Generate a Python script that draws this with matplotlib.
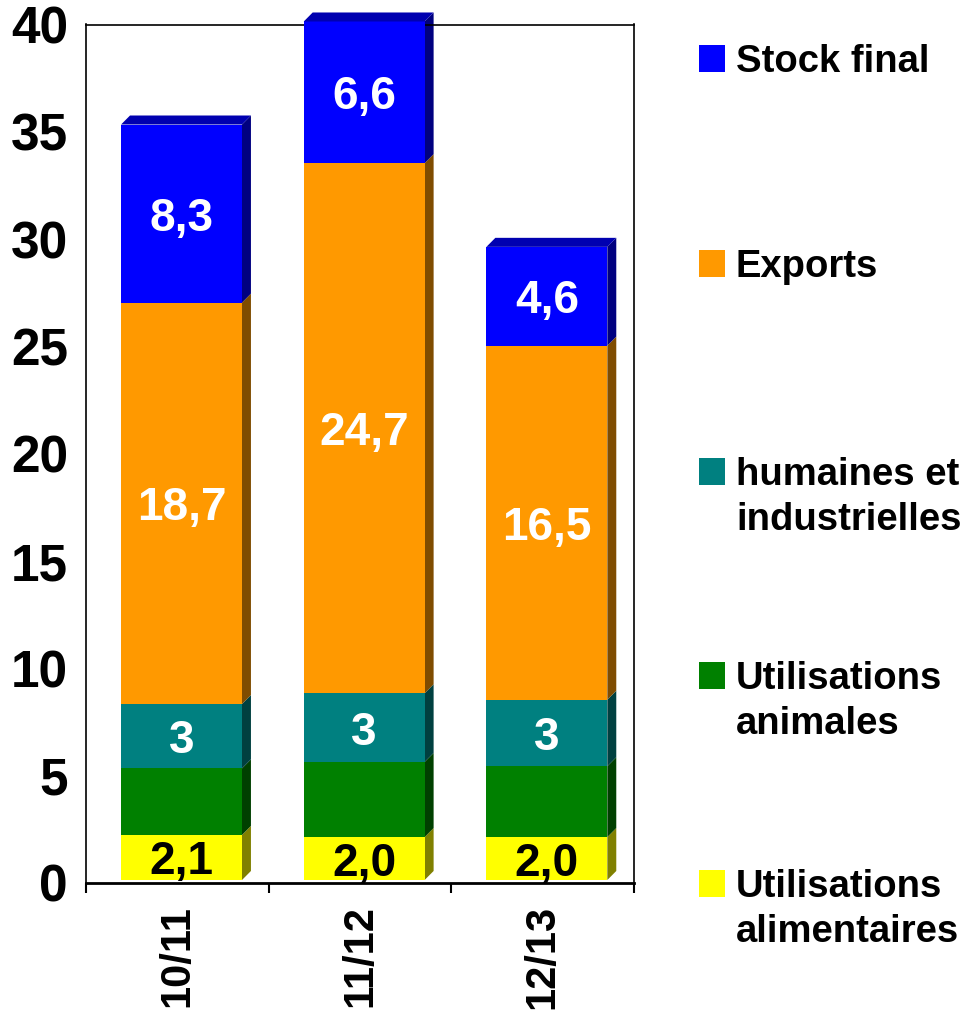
import numpy as np
import matplotlib.pyplot as plt
from matplotlib.patches import Polygon, Rectangle

plt.rcParams['font.family'] = ['Liberation Sans', 'DejaVu Sans']
plt.rcParams['font.weight'] = 'bold'

# campaigns (x axis)
campagnes = ['10/11', '11/12', '12/13']

# stacked series, bottom to top
alimentaires = [2.1, 2.0, 2.0]
animales = [3.1, 3.5, 3.3]
industrielles = [3.0, 3.2, 3.1]
exports = [18.7, 24.7, 16.5]
stock_final = [8.3, 6.6, 4.6]

# text written on the bars
lbl_alimentaires = ['2,1', '2,0', '2,0']
lbl_animales = ['', '', '']
lbl_industrielles = ['3', '3', '3']
lbl_exports = ['18,7', '24,7', '16,5']
lbl_stock = ['8,3', '6,6', '4,6']

legend_labels = ['Stock final', 'Exports', 'humaines et\nindustrielles',
                 'Utilisations\nanimales', 'Utilisations\nalimentaires']

# (values, front colour, side colour, labels, text colour)
series = [
    (alimentaires, '#FFFF00', '#808000', lbl_alimentaires, 'black'),
    (animales, '#008000', '#004000', lbl_animales, 'white'),
    (industrielles, '#008080', '#004040', lbl_industrielles, 'white'),
    (exports, '#FF9900', '#7F4C00', lbl_exports, 'white'),
    (stock_final, '#0000FF', '#000080', lbl_stock, 'white'),
]
cap_color = '#0000B0'

W_PX, H_PX = 979, 1017
fig = plt.figure(figsize=(W_PX / 100, H_PX / 100), dpi=100)
ax = fig.add_axes([86 / W_PX, 1 - 883 / H_PX, 548 / W_PX, 858.5 / H_PX])

x = np.arange(len(campagnes))
width, shift = 0.662, 0.023
dx, dy = 0.049, 0.42      # fake 3D depth
floor = 0.14

bottom = np.full(len(x), floor)
for vals, face, side, labels, tcol in series:
    vals = np.asarray(vals)
    ax.bar(x + shift, vals, width, bottom=bottom, color=face, linewidth=0,
           clip_on=False, zorder=3)
    for i in range(len(x)):
        xr = x[i] + shift + width / 2
        y0, y1 = bottom[i], bottom[i] + vals[i]
        ax.add_patch(Polygon([(xr, y0), (xr + dx, y0 + dy), (xr + dx, y1 + dy), (xr, y1)],
                             closed=True, fc=side, ec='none', clip_on=False, zorder=2))
        if labels[i]:
            ax.text(x[i] + shift, (y0 + y1) / 2, labels[i], ha='center', va='center_baseline',
                    color=tcol, fontsize=33, fontweight='bold', zorder=5)
    bottom = bottom + vals

for i in range(len(x)):
    xl = x[i] + shift - width / 2
    xr = xl + width
    t = bottom[i]
    ax.add_patch(Polygon([(xl, t), (xl + dx, t + dy), (xr + dx, t + dy), (xr, t)],
                         closed=True, fc=cap_color, ec='none', clip_on=False, zorder=3))

ax.set_xlim(-0.5, len(x) - 0.5)
ax.set_ylim(0, 40)
ax.set_yticks(np.arange(0, 41, 5))
ax.tick_params(axis='y', length=0, pad=13, labelsize=37)
ax.set_xticks(x)
ax.set_xticklabels(campagnes, rotation=90, fontsize=30)
ax.set_xticks(np.arange(-0.5, len(x), 1), minor=True)
ax.tick_params(axis='x', which='major', length=0, pad=16)
ax.tick_params(axis='x', which='minor', length=7, width=1.5, direction='out')
for s in ['left', 'top', 'right']:
    ax.spines[s].set_linewidth(1.2)
ax.spines['bottom'].set_linewidth(2)

# legend, drawn by hand (square aligned with first line)
leg_colors = [s[1] for s in series][::-1]
baselines = [71.7, 276.7, 485, 689, 897]
for lab, col, base in zip(legend_labels, leg_colors, baselines):
    fig.add_artist(Rectangle((699 / W_PX, 1 - base / H_PX), 26 / W_PX, 27 / H_PX,
                             transform=fig.transFigure, fc=col, ec='none'))
    for k, line in enumerate(lab.split('\n')):
        fig.text(736 / W_PX, 1 - (base + 45 * k) / H_PX, line, fontsize=27.5,
                 fontweight='bold', va='baseline', ha='left')

fig.savefig('out.png', dpi=100)
